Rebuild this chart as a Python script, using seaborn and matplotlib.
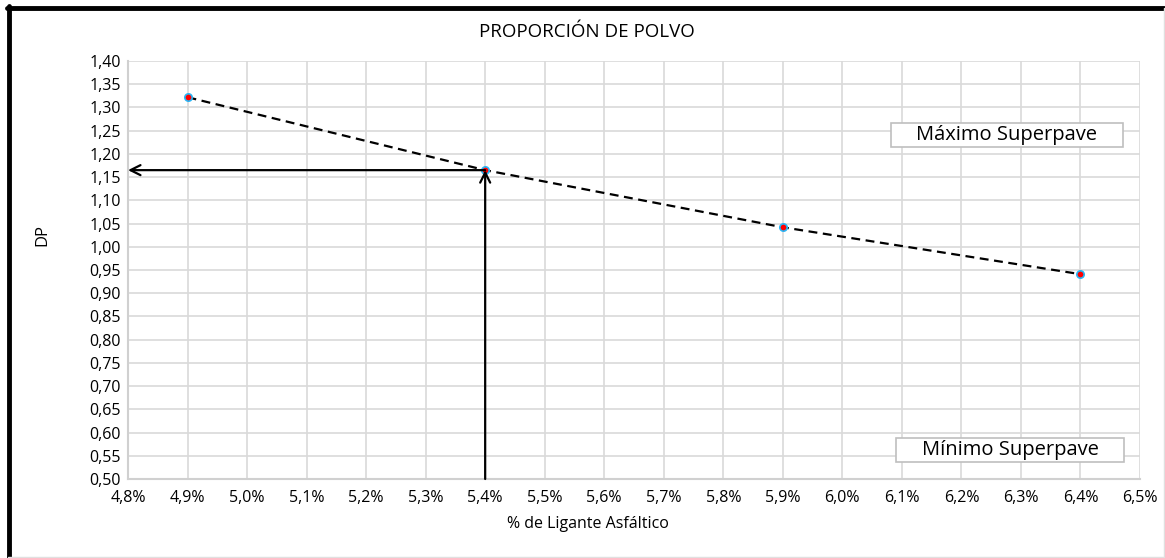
import matplotlib
matplotlib.use("Agg")
import matplotlib.pyplot as plt
import seaborn as sns
import pandas as pd
from matplotlib.lines import Line2D
from matplotlib.patches import Rectangle
from matplotlib.ticker import FuncFormatter, MultipleLocator

# data
ligante = [4.9, 5.4, 5.9, 6.4]
dp = [1.322, 1.165, 1.042, 0.941]
opt_ligante = 5.4
opt_dp = 1.165

x_min, x_max = 4.8, 6.5
y_min, y_max = 0.50, 1.40

df = pd.DataFrame({"ligante": ligante, "dp": dp})

sns.set_theme(style="whitegrid")
plt.rcParams["font.family"] = ["Open Sans", "DejaVu Sans"]

fig = plt.figure(figsize=(11.65, 5.58), dpi=100)
ax = fig.add_axes([128 / 1165, 1 - 479 / 558, 1012 / 1165, 418 / 558])

sns.lineplot(data=df, x="ligante", y="dp", ax=ax, color="black",
             linewidth=1.6, dashes=False, linestyle=(0, (4, 2.5)), zorder=3)
sns.scatterplot(data=df, x="ligante", y="dp", ax=ax, color="red",
                edgecolor="#29b6f6", linewidth=1.2, s=28, zorder=4)

# arrows to the optimum
arrow = dict(arrowstyle="->", color="black", lw=1.6, shrinkA=0, shrinkB=0,
             mutation_scale=18)
ax.annotate("", xy=(x_min, opt_dp), xytext=(opt_ligante, opt_dp),
            arrowprops=arrow, zorder=5)
ax.annotate("", xy=(opt_ligante, opt_dp), xytext=(opt_ligante, y_min),
            arrowprops=arrow, zorder=5)

ax.set_xlim(x_min, x_max)
ax.set_ylim(y_min, y_max)
ax.xaxis.set_major_locator(MultipleLocator(0.1))
ax.yaxis.set_major_locator(MultipleLocator(0.05))
ax.xaxis.set_major_formatter(FuncFormatter(lambda v, p: f"{v:.1f}%".replace(".", ",")))
ax.yaxis.set_major_formatter(FuncFormatter(lambda v, p: f"{v:.2f}".replace(".", ",")))
ax.tick_params(axis="both", labelsize=11.5, length=0, colors="black")
ax.tick_params(axis="x", pad=8)
ax.tick_params(axis="y", pad=5)
ax.grid(True, color="#d9d9d9", linewidth=1.2)
ax.set_facecolor("white")
for side in ["top", "right"]:
    ax.spines[side].set_visible(False)
for side in ["left", "bottom"]:
    ax.spines[side].set_color("#d0d0d0")
    ax.spines[side].set_linewidth(1.5)
ax.set_xlabel("")
ax.set_ylabel("")

# limit boxes
for (x0, y0, w, h, label) in [(0.754, 0.794, 0.229, 0.0574, "Máximo Superpave"),
                              (0.759, 0.0407, 0.225, 0.0574, "Mínimo Superpave")]:
    ax.add_patch(Rectangle((x0, y0), w, h, transform=ax.transAxes,
                           facecolor="white", edgecolor="#bfbfbf", lw=1.2, zorder=6))
    ax.text(x0 + w / 2, y0 + h / 2, label, transform=ax.transAxes,
            ha="center", va="center", fontsize=14.5, color="black", zorder=7)

fig.text(587 / 1165, 1 - 32 / 558, "PROPORCIÓN DE POLVO", ha="center",
         va="center", fontsize=13.5, color="black")
fig.text(588 / 1165, 1 - 524 / 558, "% de Ligante Asfáltico", ha="center",
         va="center", fontsize=11.5, color="black")
fig.text(42 / 1165, 1 - 235 / 558, "DP", ha="center", va="center",
         rotation=90, fontsize=12, color="black")

# outer frame
fig.add_artist(Line2D([7 / 1165, 1164 / 1165], [1 - 8 / 558] * 2,
                      transform=fig.transFigure, color="black", lw=3.5))
fig.add_artist(Line2D([8.5 / 1165] * 2, [1 - 6 / 558, 0],
                      transform=fig.transFigure, color="black", lw=3.5))
fig.add_artist(Line2D([1163.5 / 1165] * 2, [1 - 8 / 558, 0],
                      transform=fig.transFigure, color="#e0e0e0", lw=1))
fig.add_artist(Line2D([8 / 1165, 1164 / 1165], [1.5 / 558] * 2,
                      transform=fig.transFigure, color="#e0e0e0", lw=1))

fig.savefig("out.png", dpi=100, facecolor="white")
